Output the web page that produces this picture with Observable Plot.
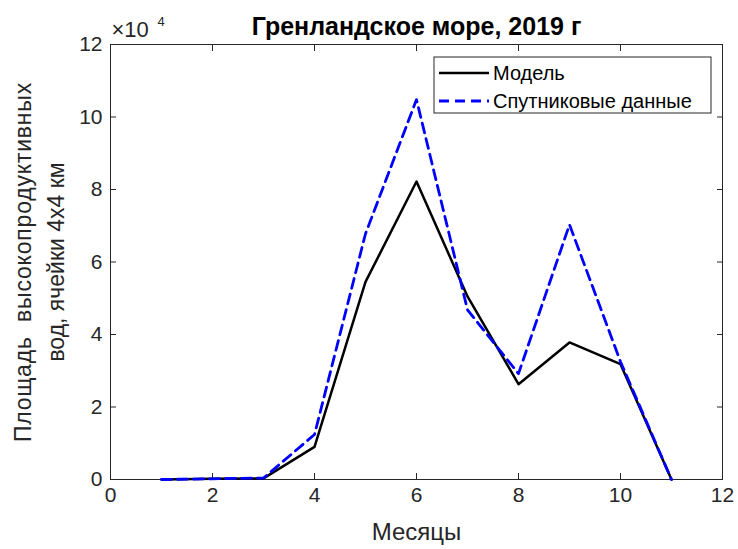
<!DOCTYPE html>
<html>
<head>
<meta charset="utf-8">
<script src="https://cdn.jsdelivr.net/npm/d3@7"></script>
<script src="https://cdn.jsdelivr.net/npm/@observablehq/plot@0.6"></script>
<style>
  body { margin: 0; background: #fff; }
  #chart svg { font-family: "Liberation Sans", Arial, sans-serif; }
  #chart svg text { white-space: pre; }
</style>
</head>
<body>
<div id="chart"></div>
<script>
// Area of highly productive waters (number of 4x4 km cells) per month, Greenland Sea, 2019
const months = [1, 2, 3, 4, 5, 6, 7, 8, 9, 10, 11];
const model = [0, 200, 300, 9000, 54500, 82200, 50500, 26300, 37800, 31800, 0];
const satellite = [0, 200, 400, 12400, 67800, 104800, 46800, 29200, 70300, 32500, 0];

const xTicks = [0, 2, 4, 6, 8, 10, 12];
const yTicks = [0, 20000, 40000, 60000, 80000, 100000, 120000];

const seriesNames = ["Модель", "Спутниковые данные"];
const titleText = "Гренландское море, 2019 г";
const xLabel = "Месяцы";
const yLabelLines = ["Площадь  высокопродуктивных", "вод, ячейки 4х4 км"];

const modelRows = months.map((m, i) => ({month: m, value: model[i]}));
const satRows = months.map((m, i) => ({month: m, value: satellite[i]}));

const ink = "#262626";
const font = "Liberation Sans, Arial, sans-serif";
const noLabel = () => "";

const chart = Plot.plot({
  width: 738,
  height: 549,
  marginLeft: 110,
  marginRight: 16,
  marginTop: 44,
  marginBottom: 70,
  style: {fontFamily: font, background: "white"},
  x: {domain: [0, 12]},
  y: {domain: [0, 120000]},
  marks: [
    Plot.frame({stroke: ink, strokeWidth: 1}),
    Plot.axisX(xTicks, {anchor: "bottom", tickSize: -6, tickPadding: 14, fontSize: 21, color: ink, label: null}),
    Plot.axisX(xTicks, {anchor: "top", tickSize: -6, tickFormat: noLabel, color: ink, label: null}),
    Plot.axisY(yTicks, {anchor: "left", tickSize: -6, tickPadding: 14, fontSize: 21, color: ink, label: null, tickFormat: d => d / 1e4}),
    Plot.axisY(yTicks, {anchor: "right", tickSize: -6, tickFormat: noLabel, color: ink, label: null}),
    Plot.line(modelRows, {x: "month", y: "value", stroke: "#000", strokeWidth: 2.5}),
    Plot.line(satRows, {x: "month", y: "value", stroke: "#0000ff", strokeWidth: 2.8, strokeDasharray: "10,6"}),
    Plot.text([titleText], {frameAnchor: "top", dy: -27, fontSize: 25, fontWeight: "bold", fill: "#000"}),
    Plot.text(["×10"], {frameAnchor: "top-left", textAnchor: "start", dx: 1, dy: -23, fontSize: 22, fill: ink}),
    Plot.text(["4"], {frameAnchor: "top-left", textAnchor: "start", dx: 47, dy: -28, fontSize: 13, fill: ink}),
    Plot.text([xLabel], {frameAnchor: "bottom", dy: 60, fontSize: 24, fill: ink}),
    Plot.text([yLabelLines[0]], {frameAnchor: "left", textAnchor: "middle", rotate: -90, dx: -87, fontSize: 23, fill: ink}),
    Plot.text([yLabelLines[1]], {frameAnchor: "left", textAnchor: "middle", rotate: -90, dx: -54, fontSize: 23, fill: ink})
  ]
});

document.getElementById("chart").appendChild(chart);

const svg = d3.select(chart);

// The first y-label line is set a little looser
svg.selectAll("text")
  .filter(function() { return this.textContent === yLabelLines[0]; })
  .style("letter-spacing", "0.8px");

// Legend box in the upper right of the axes
const legend = svg.append("g").attr("transform", "translate(434,57)");
legend.append("rect")
  .attr("width", 277).attr("height", 56)
  .attr("fill", "white").attr("stroke", ink).attr("stroke-width", 1);
const styles = [
  {stroke: "#000", width: 2.5, dash: null},
  {stroke: "#0000ff", width: 2.8, dash: "10,6"}
];
seriesNames.forEach((name, i) => {
  const y = 16 + i * 28;
  legend.append("line")
    .attr("x1", 5).attr("x2", 55).attr("y1", y).attr("y2", y)
    .attr("stroke", styles[i].stroke).attr("stroke-width", styles[i].width)
    .attr("stroke-dasharray", styles[i].dash);
  legend.append("text")
    .attr("x", 59).attr("y", y).attr("dy", "0.35em")
    .attr("text-anchor", "start")
    .attr("font-size", 20).attr("fill", "#000")
    .attr("font-family", font)
    .text(name);
});
</script>
</body>
</html>
